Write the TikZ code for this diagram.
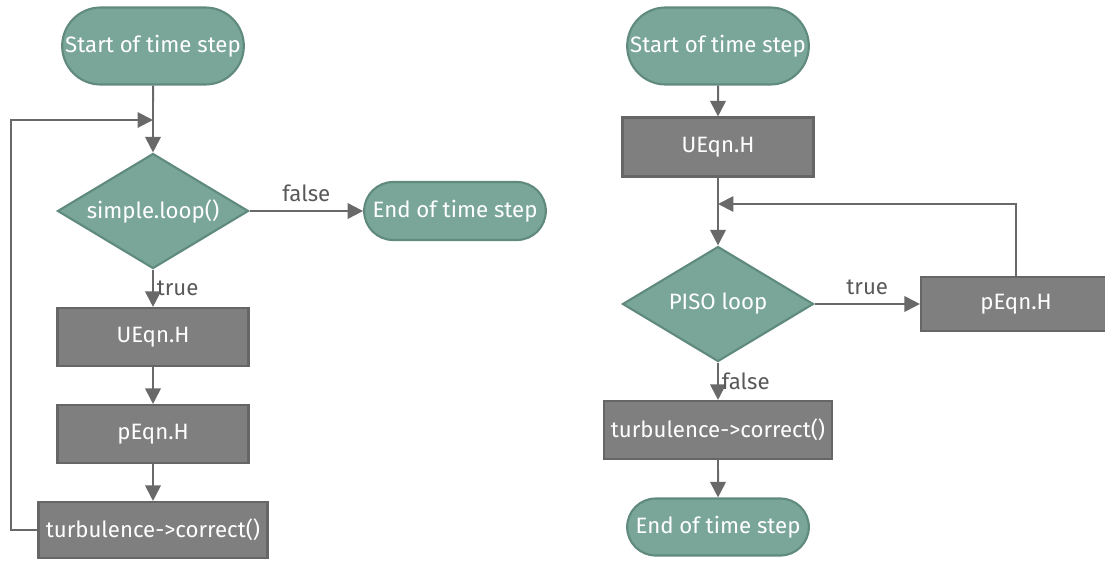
\documentclass[tikz,border=0pt]{standalone}
\usepackage{fontspec}
\setmainfont{Fira Sans}
\usetikzlibrary{arrows.meta, shapes.geometric, shapes.misc}
\definecolor{flowgreen}{HTML}{7AA69A}
\definecolor{flowgreenline}{HTML}{5F8A7D}
\definecolor{boxgray}{HTML}{7F7F7F}
\definecolor{boxline}{HTML}{666666}
\definecolor{linegray}{HTML}{696969}
\definecolor{labelgray}{HTML}{595959}

\begin{document}
\begin{tikzpicture}[x=0.025cm, y=-0.025cm, font=\fontsize{15.8}{18}\selectfont,
    >={Triangle[length=11pt,width=11pt]},
    conn/.style={draw=linegray, line width=1.4pt, ->},
    terminal/.style={rounded rectangle, draw=flowgreenline, fill=flowgreen, line width=1.5pt,
      text=white, minimum width=4.775cm, minimum height=1.45cm},
    decision/.style={diamond, draw=flowgreenline, fill=flowgreen, line width=1.5pt, text=white,
      inner sep=0pt, aspect=1.66, minimum width=4.775cm, minimum height=2.875cm},
    process/.style={rectangle, draw=boxline, fill=boxgray, line width=1.5pt, text=white,
      minimum width=4.775cm, minimum height=1.45cm},
    lbl/.style={text=labelgray, inner sep=2pt}]
  \useasboundingbox (0,0) rectangle (1105,560);

  % SIMPLE loop
  \node[terminal, minimum height=1.925cm] (start1) at (153,46) {Start of time step};
  \node[decision] (dec1) at (153,211) {simple.loop()};
  \node[terminal] (end1) at (455,211) {End of time step};
  \node[process] (ueqn1) at (153,337) {UEqn.H};
  \node[process] (peqn1) at (153,434) {pEqn.H};
  \node[process, minimum width=5.725cm, minimum height=1.4cm] (turb1) at (153,530) {turbulence->correct()};
  \coordinate (join1) at (153,120);

  \draw[conn] (start1) -- (dec1);
  \draw[conn] (turb1.west) -- ++(-26,0) |- (join1);
  \draw[conn] (dec1) -- node[lbl, above=4pt] {false} (end1);
  \draw[conn] (dec1) -- node[lbl, right] {true} (ueqn1);
  \draw[conn] (ueqn1) -- (peqn1);
  \draw[conn] (peqn1) -- (turb1);

  % PISO loop
  \node[terminal, minimum height=1.925cm] (start2) at (718,46) {Start of time step};
  \node[process, minimum height=1.475cm] (ueqn2) at (718,147) {UEqn.H};
  \node[decision] (dec2) at (718,304) {PISO loop};
  \node[process, minimum width=4.75cm, minimum height=1.35cm] (peqn2) at (1016,304) {pEqn.H};
  \node[process, minimum width=5.7cm] (turb2) at (718,430) {turbulence->correct()};
  \node[terminal, minimum height=1.425cm] (end2) at (718,527) {End of time step};
  \coordinate (join2) at (718,204);

  \draw[conn] (start2) -- (ueqn2);
  \draw[conn] (ueqn2) -- (dec2);
  \draw[conn] (dec2) -- node[lbl, above=4pt] {true} (peqn2);
  \draw[conn] (peqn2) |- (join2);
  \draw[conn] (dec2) -- node[lbl, right] {false} (turb2);
  \draw[conn] (turb2) -- (end2);
\end{tikzpicture}
\end{document}
